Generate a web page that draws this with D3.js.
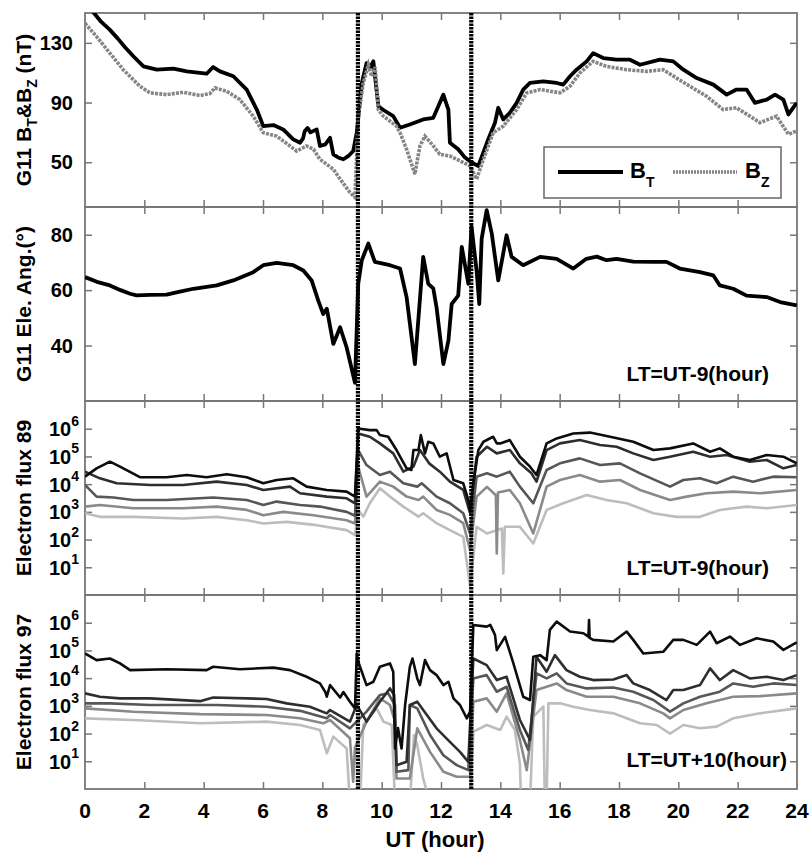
<!DOCTYPE html>
<html><head><meta charset="utf-8">
<script src="https://cdn.jsdelivr.net/npm/d3@7"></script>
<style>
body{margin:0;background:#fff}
svg{display:block}
text{font-family:"Liberation Sans",Arial,sans-serif;font-weight:bold;fill:#000}
</style>
</head><body>
<svg id="c" width="812" height="852"></svg>
<script>
// ---------------- data ----------------
const hourTicks = [0,2,4,6,8,10,12,14,16,18,20,22,24];
const bTicks = [50,90,130];
const eleTicks = [40,60,80];
const fluxTicks = [1e1,1e2,1e3,1e4,1e5,1e6];
const eventLines = [9.2, 13.02];           // UT of the dotted vertical lines
const panelTitles = ["G11 Ele. Ang.(°)", "Electron flux 89", "Electron flux 97"];
const ltLabels = ["LT=UT-9(hour)", "LT=UT-9(hour)", "LT=UT+10(hour)"];

// G11 B_T (nT)  [UT hour, value]
const bT = [[0,156],[0.3,150],[0.55,144],[0.84,138.7],[1.1,133],[1.35,127],[1.63,121],[1.97,114.2],[2.42,112],[2.98,112.7],[3.43,110.9],[3.8,110],[4.1,109.3],[4.32,113.8],[4.55,110.9],[5.0,107.6],[5.45,98.7],[5.79,85.3],[6.01,74.2],[6.35,74.9],[6.68,72],[7.02,65.3],[7.25,63.1],[7.35,66],[7.41,71],[7.5,73],[7.6,70],[7.81,72],[7.92,60.9],[8.1,62],[8.26,66.4],[8.37,55.3],[8.55,53],[8.71,52],[8.88,54.2],[9.04,57.5],[9.16,69.8],[9.33,103],[9.49,116.4],[9.6,113],[9.72,117.6],[9.89,87.5],[10.06,85],[10.39,80.9],[10.62,73.1],[10.95,75.3],[11.4,78.7],[11.74,79.8],[11.91,87.5],[12.08,95.3],[12.2,88],[12.25,85.3],[12.3,63.1],[12.58,58.7],[12.81,53.1],[13.03,49.8],[13.26,47.5],[13.59,65.3],[13.82,76.5],[13.93,86.5],[14.1,78.7],[14.32,83.1],[14.55,89.8],[14.77,98.7],[15.0,103.1],[15.45,104.2],[15.9,103.1],[16.12,102],[16.35,107.6],[16.57,112],[16.91,117.6],[17.13,123.1],[17.47,119.8],[17.92,118.7],[18.37,118.7],[18.71,115.3],[19.38,118.7],[19.83,117.6],[20.17,112],[20.62,106.4],[21.18,102],[21.63,95.3],[21.96,98.7],[22.3,98.7],[22.58,89.8],[22.98,92],[23.26,95.3],[23.54,92],[23.71,82],[23.99,89.8]];
// G11 B_Z (nT)
const bZ = [[0,143.1],[0.39,134.2],[0.84,123.1],[1.29,112],[1.85,100.9],[2.19,96.5],[2.75,95.3],[3.31,96.9],[3.88,94.7],[4.21,96],[4.38,99.8],[4.78,97.5],[5.22,92],[5.67,80.9],[6.01,69.8],[6.46,67.5],[6.91,60.9],[7.13,57.5],[7.47,60.9],[7.7,58.7],[7.92,52],[8.37,45.3],[8.6,38.7],[8.93,29.8],[9.1,26.5],[9.21,80.9],[9.38,103],[9.55,115.3],[9.66,107.6],[9.78,113.8],[9.89,85],[10.06,80.9],[10.5,74.2],[10.62,69.8],[10.84,58.7],[11.12,42],[11.29,60.9],[11.46,67.5],[11.74,60.9],[11.96,55.3],[12.3,54.2],[12.64,50.9],[12.98,47.5],[13.2,38.7],[13.43,52],[13.76,69.8],[14.1,74.2],[14.55,85.3],[14.89,96.5],[15.34,98.7],[16.01,96.5],[16.35,100.9],[16.68,109.8],[17.13,117.6],[17.58,114.2],[18.26,112],[18.93,110.9],[19.49,112],[19.94,106.4],[20.39,100.9],[20.95,94.2],[21.51,85.3],[21.96,86.5],[22.41,80.9],[22.75,76.5],[23.31,80.9],[23.71,68.7],[23.99,71]];
// G11 elevation angle (deg)
const ele = [[0,64.7],[0.4,63],[0.84,61.7],[1.2,60],[1.52,58.7],[1.74,58.1],[2.2,58.3],[2.75,58.4],[3.2,59.5],[3.65,60.5],[4.44,61.7],[5.0,63.5],[5.67,66.5],[6.01,69],[6.46,69.8],[7.02,69],[7.36,67.1],[7.64,63.5],[7.86,56.3],[8.03,51.4],[8.15,53.3],[8.37,40.6],[8.6,46.6],[8.82,39.3],[9.1,26.6],[9.21,62.3],[9.33,70.8],[9.55,76.8],[9.77,70.2],[10.28,69],[10.62,67.8],[10.84,57.5],[11.12,33.3],[11.4,72],[11.57,62.3],[11.74,60.6],[11.85,53.8],[12.08,33.3],[12.25,41.8],[12.36,55],[12.58,58],[12.7,75.6],[12.92,62.3],[13.03,82.9],[13.2,67],[13.29,55],[13.37,78.5],[13.54,88.9],[13.71,80.5],[13.93,63.5],[14.21,79.8],[14.38,72],[14.77,69],[15.34,72],[15.9,71.3],[16.46,67.8],[16.9,71.3],[17.25,72.1],[17.58,70.8],[17.92,71.3],[18.48,70.3],[19.16,70.2],[19.6,70.2],[20.05,67.8],[20.73,66.5],[21.18,65.3],[21.4,61.7],[21.85,60.5],[22.3,58],[22.98,57.5],[23.43,55.7],[23.99,54.5]];

// Electron flux G-89, log10 values, channels 1 (darkest) .. 5 (lightest)
const f89c1 = [[0,4.27],[0.39,4.57],[0.84,4.81],[1.18,4.63],[1.85,4.25],[2.75,4.25],[3.43,4.33],[4.1,4.25],[4.78,4.36],[5.45,4.25],[6.01,4.03],[6.46,4.15],[7.02,4.21],[7.47,3.91],[8.15,3.79],[8.82,3.73],[9.1,3.55],[9.21,6.01],[9.6,5.95],[9.83,5.95],[9.94,5.77],[10.22,5.71],[10.5,5.23],[10.84,4.57],[11.0,4.51],[11.07,5.23],[11.24,5.23],[11.32,5.77],[11.46,5.11],[11.57,5.53],[11.74,5.47],[11.96,4.99],[12.19,5.11],[12.42,4.15],[12.75,4.03],[12.92,3.43],[12.98,3.07],[13.09,4.03],[13.26,5.23],[13.43,5.53],[13.76,5.71],[13.88,5.47],[14.0,5.47],[14.32,5.59],[14.66,4.99],[15.0,4.63],[15.22,4.33],[15.56,5.47],[15.9,5.65],[16.46,5.83],[17.02,5.86],[17.7,5.71],[18.48,5.53],[19.16,5.23],[19.72,5.29],[20.5,5.47],[21.07,5.17],[21.4,5.29],[21.85,4.99],[22.41,4.87],[22.98,5.05],[23.54,4.99],[23.99,4.75]];
const f89c2 = [[0,4.45],[0.5,4.21],[1.07,4.03],[2.19,3.97],[3.31,3.97],[4.44,4.09],[5.45,3.97],[6.01,3.79],[6.91,3.91],[7.25,3.67],[8.15,3.55],[8.82,3.49],[9.1,3.31],[9.21,5.83],[9.6,5.71],[9.94,5.47],[10.39,5.11],[10.73,4.45],[11.07,4.63],[11.29,5.23],[11.6,4.75],[11.96,4.45],[12.3,4.09],[12.75,3.79],[12.98,2.95],[13.2,4.99],[13.55,5.35],[13.88,5.11],[14.32,5.23],[14.66,4.75],[15.05,4.39],[15.22,4.09],[15.56,5.23],[16.01,5.47],[16.68,5.59],[17.36,5.41],[17.92,5.35],[18.48,5.11],[19.16,4.87],[19.72,4.99],[20.5,5.17],[21.07,4.99],[21.63,5.05],[22.41,4.81],[22.98,4.87],[23.54,4.57],[23.99,4.69]];
const f89c3 = [[0,3.97],[0.39,3.55],[0.96,3.52],[1.63,3.43],[2.75,3.43],[4.32,3.52],[5.45,3.43],[6.01,3.25],[6.46,3.37],[7.25,3.25],[7.92,3.19],[8.82,3.0],[9.1,2.86],[9.21,5.23],[9.49,4.69],[9.94,4.33],[10.28,4.45],[10.73,4.03],[11.2,3.91],[11.35,4.03],[11.85,3.55],[12.3,3.31],[12.75,2.95],[12.98,2.22],[13.2,4.27],[13.55,4.39],[13.88,4.27],[14.32,4.45],[14.66,3.91],[15.11,3.31],[15.56,4.51],[16.01,4.75],[16.68,4.93],[17.36,4.69],[18.03,4.75],[18.71,4.39],[19.72,3.91],[20.17,4.15],[20.73,4.21],[21.29,4.03],[21.85,4.27],[22.52,4.09],[23.2,4.27],[23.99,4.25]];
const f89c4 = [[0,3.19],[0.5,3.25],[1.63,3.13],[3.31,3.13],[4.44,3.19],[5.45,3.07],[6.01,2.88],[6.68,3.0],[7.7,2.88],[8.82,2.7],[9.1,2.58],[9.21,4.63],[9.49,3.55],[9.94,4.09],[10.39,3.91],[10.84,3.55],[11.24,3.43],[11.4,3.55],[11.85,3.07],[12.3,2.89],[12.75,2.59],[12.98,1.62],[13.2,3.55],[13.55,3.9],[13.85,3.6],[13.88,1.5],[13.92,3.7],[14.32,3.79],[14.66,3.31],[15.11,2.22],[15.56,3.91],[16.01,4.15],[16.68,4.33],[17.36,4.09],[18.03,4.15],[18.71,3.79],[19.72,3.43],[20.28,3.55],[20.95,3.67],[21.85,3.73],[22.75,3.67],[23.99,3.79]];
const f89c5 = [[0,2.95],[0.5,2.82],[1.63,2.82],[3.31,2.76],[4.44,2.82],[5.45,2.7],[6.01,2.58],[6.8,2.64],[7.81,2.52],[8.82,2.34],[9.1,2.16],[9.21,3.07],[9.38,2.83],[9.6,3.31],[9.94,3.85],[10.28,3.55],[10.73,3.19],[11.24,2.83],[11.4,2.95],[11.85,2.59],[12.3,2.34],[12.75,2.1],[12.92,0.78],[12.98,0.3],[13.2,2.46],[13.55,2.22],[13.88,2.34],[14.05,2.4],[14.1,0.78],[14.15,2.46],[14.66,2.46],[15.11,1.86],[15.56,3.07],[16.12,3.31],[16.91,3.61],[17.58,3.43],[18.26,3.31],[19.16,2.95],[19.94,2.82],[20.73,2.82],[21.4,3.07],[22.3,3.19],[22.98,3.13],[23.99,3.25]];

// Electron flux G-97, log10 values
const f97c1 = [[0,4.89],[0.39,4.65],[0.84,4.71],[1.18,4.53],[1.52,4.29],[2.75,4.32],[4.1,4.29],[4.32,4.41],[5.22,4.32],[6.35,4.38],[6.91,4.29],[7.47,4.05],[7.92,3.81],[8.1,3.5],[8.15,3.33],[8.26,3.75],[8.6,3.3],[8.71,3.5],[8.93,3.15],[9.1,2.91],[9.16,4.89],[9.21,4.59],[9.33,4.23],[9.49,3.75],[9.72,3.87],[9.94,4.41],[10.28,4.53],[10.39,4.23],[10.45,1.46],[10.55,2.2],[10.67,1.46],[10.79,3.03],[10.95,4.41],[11.04,4.71],[11.2,3.99],[11.29,3.75],[11.46,4.65],[11.63,4.29],[11.85,4.11],[12.08,3.75],[12.25,3.87],[12.42,3.27],[12.64,3.03],[12.87,2.55],[12.98,2.79],[13.09,5.92],[13.54,5.86],[13.66,5.92],[13.82,5.56],[13.88,5.01],[14.16,5.49],[14.44,4.53],[14.77,3.33],[15.0,3.21],[15.11,4.77],[15.34,4.83],[15.56,4.65],[15.67,5.74],[15.9,6.04],[16.35,5.68],[16.8,5.62],[16.97,5.5],[16.99,6.1],[17.01,5.45],[17.13,5.38],[17.81,5.32],[18.26,5.68],[18.48,5.38],[18.82,4.89],[19.49,4.95],[19.83,5.38],[20.17,5.38],[20.62,5.2],[21.07,5.68],[21.29,5.26],[21.74,5.5],[22.08,5.2],[22.64,5.44],[23.2,5.32],[23.54,5.02],[23.99,5.29]];
const f97c2 = [[0,3.45],[0.5,3.33],[1.18,3.27],[2.19,3.27],[3.88,3.17],[4.32,3.3],[6.12,3.25],[6.8,3.09],[7.58,2.97],[8.15,2.73],[8.26,2.85],[8.93,2.43],[9.16,3.03],[9.49,2.43],[9.94,3.15],[10.28,3.63],[10.42,3.39],[10.5,0.86],[10.84,0.98],[10.95,3.03],[11.2,3.15],[11.4,2.85],[11.85,2.19],[12.3,1.7],[12.64,1.34],[12.92,0.98],[13.09,4.71],[13.54,4.47],[13.88,3.93],[14.21,4.05],[14.66,2.49],[15.0,1.77],[15.22,4.77],[15.56,4.23],[15.84,4.83],[16.23,4.29],[16.68,4.05],[17.13,3.93],[17.81,3.95],[18.26,4.11],[18.48,3.81],[19.04,3.57],[19.6,3.21],[19.83,3.57],[20.17,3.57],[20.73,3.75],[21.07,4.35],[21.4,3.93],[21.85,4.29],[22.41,3.99],[22.98,4.05],[23.54,3.93],[23.99,4.11]];
const f97c3 = [[0,3.09],[0.84,3.09],[2.19,3.03],[4.44,3.03],[6.12,2.97],[7.25,2.82],[8.15,2.55],[8.26,2.67],[8.93,2.19],[9.49,2.79],[9.94,3.39],[10.22,3.45],[10.45,3.03],[10.5,0.62],[10.9,0.68],[10.95,3.03],[11.2,2.91],[11.63,1.95],[12.08,1.22],[12.53,0.86],[12.92,0.68],[13.09,3.99],[13.54,4.11],[13.88,3.51],[14.21,3.69],[14.66,2.13],[14.94,1.41],[15.22,4.17],[15.56,3.99],[15.9,4.17],[16.23,3.81],[16.91,3.63],[17.81,3.66],[18.48,3.51],[19.16,3.21],[19.72,2.79],[20.17,3.09],[20.73,3.33],[21.4,3.51],[21.85,3.81],[22.52,3.69],[23.2,3.81],[23.99,3.75]];
const f97c4 = [[0,2.91],[1.63,2.79],[3.88,2.7],[6.12,2.67],[7.25,2.55],[8.03,2.37],[8.26,2.49],[8.93,1.83],[9.04,0.26],[9.1,1.5],[9.49,2.43],[9.94,3.27],[10.28,3.03],[10.45,2.43],[10.5,0.38],[10.95,0.38],[11.2,2.19],[11.63,1.34],[12.08,0.62],[12.53,0.44],[12.98,0.44],[13.09,3.15],[13.54,3.27],[13.88,2.79],[14.21,3.45],[14.66,1.77],[14.89,0.68],[15.22,3.57],[15.56,3.69],[15.9,3.81],[16.23,3.57],[16.91,3.33],[17.81,3.33],[18.71,3.09],[19.49,2.73],[19.72,2.55],[20.17,2.85],[20.95,3.09],[21.85,3.33],[22.75,3.35],[23.99,3.45]];
const f97c5 = [[0,2.55],[1.63,2.49],[3.88,2.37],[6.12,2.43],[7.25,2.31],[7.92,2.13],[8.15,1.29],[8.37,1.89],[8.82,1.46],[8.93,-0.5],[9.27,-0.5],[9.38,2.31],[9.83,2.91],[10.06,2.43],[10.34,2.31],[10.45,-0.5],[10.95,-0.5],[11.09,1.95],[11.2,1.58],[11.4,0.38],[11.63,-0.5],[12.98,-0.5],[13.09,2.07],[13.54,2.31],[14.0,2.13],[14.21,2.61],[14.49,2.13],[14.66,0.92],[14.7,-0.5],[15.0,-0.5],[15.11,2.61],[15.45,2.97],[15.5,-0.5],[15.56,-0.5],[15.62,3.09],[16.01,3.09],[16.46,2.97],[17.02,2.85],[17.81,2.73],[18.71,2.37],[19.27,2.31],[19.72,2.0],[20.17,2.31],[20.73,2.19],[21.29,2.25],[21.85,2.55],[22.75,2.73],[23.99,2.91]];

// ---------------- layout ----------------
const L = 85, R = 797, TOP = 13, PH = 194;
const fluxColors = ["#0d0d0d","#2e2e2e","#575757","#8a8a8a","#bdbdbd"];
const frameColor = "#777";
const svg = d3.select("#c");
const x = d3.scaleLinear().domain([0,24]).range([L,R]);
const pTop = i => TOP + i*PH;

const yScales = [
  d3.scaleLinear().domain([20,150]).range([pTop(1), pTop(0)]),
  d3.scaleLinear().domain([20,90]).range([pTop(2), pTop(1)]),
  d3.scaleLog().domain([1,1e7]).range([pTop(3), pTop(2)]),
  d3.scaleLog().domain([1,1e7]).range([pTop(4), pTop(3)])
];
const yTickVals = [bTicks, eleTicks, fluxTicks, fluxTicks];

// clip paths
const defs = svg.append("defs");
for (let i=0;i<4;i++) {
  defs.append("clipPath").attr("id","clip"+i).append("rect")
    .attr("x",L).attr("y",pTop(i)).attr("width",R-L).attr("height",PH);
}

const innerX = hourTicks.filter(h => h>0 && h<24);

// axes: frame + inward ticks
for (let i=0;i<4;i++) {
  const y = yScales[i];
  const g = svg.append("g").attr("class","axes");
  g.append("g").attr("transform",`translate(0,${pTop(i+1)})`)
    .call(d3.axisBottom(x).tickValues(innerX).tickSize(-7).tickFormat(""));
  g.append("g").attr("transform",`translate(0,${pTop(i)})`)
    .call(d3.axisTop(x).tickValues(innerX).tickSize(-7).tickFormat(""));
  g.append("g").attr("transform",`translate(${L},0)`)
    .call(d3.axisLeft(y).tickValues(yTickVals[i]).tickSize(-7).tickFormat(""));
  g.append("g").attr("transform",`translate(${R},0)`)
    .call(d3.axisRight(y).tickValues(yTickVals[i]).tickSize(-7).tickFormat(""));
  g.selectAll(".domain").remove();
  g.selectAll(".tick line").attr("stroke",frameColor).attr("stroke-width",1.5);
  g.append("rect").attr("x",L).attr("y",pTop(i)).attr("width",R-L).attr("height",PH)
    .attr("fill","none").attr("stroke",frameColor).attr("stroke-width",1.8);
}

// y tick labels
[0,1].forEach(i => {
  svg.append("g").selectAll("text").data(yTickVals[i]).join("text")
    .attr("x",73).attr("y",d => yScales[i](d)+7)
    .attr("text-anchor","end").attr("font-size",20).text(d => d);
});
[2,3].forEach(i => {
  const t = svg.append("g").selectAll("text").data(yTickVals[i]).join("text")
    .attr("x",79).attr("y",d => yScales[i](d)+7.5)
    .attr("text-anchor","end").attr("font-size",20);
  t.append("tspan").text("10");
  t.append("tspan").attr("font-size",14).attr("dy",-10.5).text(d => Math.round(Math.log10(d)));
});

// x tick labels
svg.append("g").selectAll("text").data(hourTicks).join("text")
  .attr("x",d => x(d)).attr("y",818).attr("text-anchor","middle")
  .attr("font-size",21).text(d => d);
svg.append("text").attr("x",(L+R)/2-6).attr("y",847).attr("text-anchor","middle")
  .attr("font-size",22).text("UT (hour)");

// y titles
const t0 = svg.append("text").attr("transform",`translate(31,${(pTop(0)+pTop(1))/2}) rotate(-90)`)
  .attr("text-anchor","middle").attr("font-size",21);
t0.append("tspan").text("G11 B");
t0.append("tspan").attr("font-size",14).attr("dy",6).text("T");
t0.append("tspan").attr("dy",-6).text("&B");
t0.append("tspan").attr("font-size",14).attr("dy",6).text("Z");
t0.append("tspan").attr("dy",-6).text(" (nT)");
panelTitles.forEach((s,k) => {
  const i = k+1;
  svg.append("text").attr("transform",`translate(31,${(pTop(i)+pTop(i+1))/2}) rotate(-90)`)
    .attr("text-anchor","middle").attr("font-size",21).text(s);
});

// LT labels
const ltPos = [{x:769,y:381},{x:769,y:575},{x:787,y:767}];
ltLabels.forEach((s,k) => {
  svg.append("text").attr("x",ltPos[k].x).attr("y",ltPos[k].y)
    .attr("text-anchor","end").attr("font-size",21).text(s);
});

// ---------------- series ----------------
const lineLin = y => d3.line().x(d => x(d[0])).y(d => y(d[1]));
const lineLog = y => d3.line().x(d => x(d[0])).y(d => y(Math.pow(10,d[1])));

const p0 = svg.append("g").attr("clip-path","url(#clip0)");
p0.append("path").datum(bT).attr("d",lineLin(yScales[0]))
  .attr("fill","none").attr("stroke","#000").attr("stroke-width",3.8).attr("stroke-linejoin","round");
p0.append("path").datum(bZ).attr("d",lineLin(yScales[0]))
  .attr("fill","none").attr("stroke","#858585").attr("stroke-width",3.6).attr("stroke-dasharray","3,1.2");

const p1 = svg.append("g").attr("clip-path","url(#clip1)");
p1.append("path").datum(ele).attr("d",lineLin(yScales[1]))
  .attr("fill","none").attr("stroke","#000").attr("stroke-width",3.8).attr("stroke-linejoin","round");

const f89 = [f89c1,f89c2,f89c3,f89c4,f89c5];
const f97 = [f97c1,f97c2,f97c3,f97c4,f97c5];
[[f89,2],[f97,3]].forEach(([set,i]) => {
  const g = svg.append("g").attr("clip-path",`url(#clip${i})`);
  for (let c=4;c>=0;c--) {
    g.append("path").datum(set[c]).attr("d",lineLog(yScales[i]))
      .attr("fill","none").attr("stroke",fluxColors[c]).attr("stroke-width",2.6)
      .attr("stroke-linejoin","round");
  }
});

// vertical dotted event lines
svg.append("g").selectAll("line").data(eventLines).join("line")
  .attr("x1",d => x(d)).attr("x2",d => x(d)).attr("y1",pTop(0)).attr("y2",pTop(4))
  .attr("stroke","#000").attr("stroke-width",4.2).attr("stroke-dasharray","2.5,1");

// legend
const lg = svg.append("g");
lg.append("rect").attr("x",544).attr("y",147).attr("width",237).attr("height",51)
  .attr("fill","#fff").attr("stroke","#666").attr("stroke-width",1.5);
lg.append("line").attr("x1",558).attr("x2",623).attr("y1",172).attr("y2",172)
  .attr("stroke","#000").attr("stroke-width",3.8);
const lt1 = lg.append("text").attr("x",630).attr("y",178).attr("font-size",22);
lt1.append("tspan").text("B");
lt1.append("tspan").attr("font-size",14).attr("dy",9).text("T");
lg.append("line").attr("x1",673).attr("x2",737).attr("y1",172).attr("y2",172)
  .attr("stroke","#858585").attr("stroke-width",3.4).attr("stroke-dasharray","2,1");
const lt2 = lg.append("text").attr("x",745).attr("y",178).attr("font-size",22);
lt2.append("tspan").text("B");
lt2.append("tspan").attr("font-size",14).attr("dy",9).text("Z");
</script>
</body></html>
